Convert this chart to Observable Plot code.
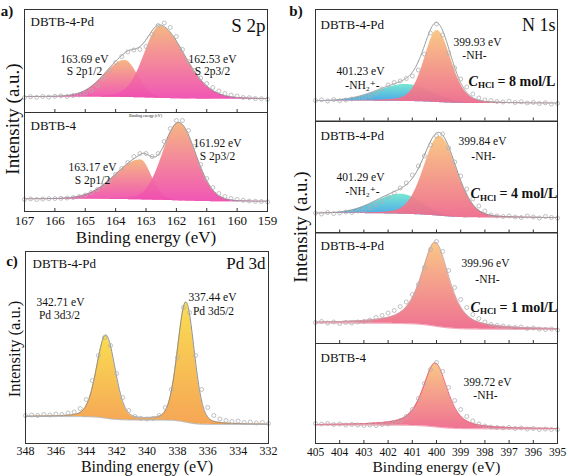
<!DOCTYPE html>
<html><head><meta charset="utf-8">
<script src="https://cdn.jsdelivr.net/npm/d3@7"></script>
<script src="https://cdn.jsdelivr.net/npm/@observablehq/plot@0.6"></script>
<style>
html,body{margin:0;padding:0;background:#fff;}
#fig{position:relative;width:568px;height:476px;overflow:hidden;font-family:"Liberation Serif","Tinos","DejaVu Serif","Noto Serif","Times New Roman",Times,serif;color:#111;}
#fig svg{position:absolute;overflow:visible;}
.t{position:absolute;white-space:nowrap;line-height:1;}
</style></head><body>
<div id="fig"></div>
<script>
// ---------- data ----------
const sEnergy = [167.0,166.8,166.6,166.4,166.2,166.0,165.8,165.6,165.4,165.2,165.0,164.8,164.6,164.4,164.2,164.0,163.8,163.6,163.4,163.2,163.0,162.8,162.6,162.4,162.2,162.0,161.8,161.6,161.4,161.2,161.0,160.8,160.6,160.4,160.2,160.0,159.8,159.6,159.4,159.2,159.0];
const nEnergy = [405.0,404.75,404.5,404.25,404.0,403.75,403.5,403.25,403.0,402.75,402.5,402.25,402.0,401.75,401.5,401.25,401.0,400.75,400.5,400.25,400.0,399.75,399.5,399.25,399.0,398.75,398.5,398.25,398.0,397.75,397.5,397.25,397.0,396.75,396.5,396.25,396.0,395.75,395.5,395.25,395.0];
const pdEnergy = [348.0,347.6,347.2,346.8,346.4,346.0,345.6,345.2,344.8,344.4,344.0,343.6,343.2,342.8,342.4,342.0,341.6,341.2,340.8,340.4,340.0,339.6,339.2,338.8,338.4,338.0,337.6,337.2,336.8,336.4,336.0,335.6,335.2,334.8,334.4,334.0,333.6,333.2,332.8,332.4,332.0];

// measured intensities (a.u.)
const aTopCounts = [15,15.8,15.2,16,15.4,16.2,16.6,16,17,17.6,19.5,22,27,34,42,50,56,60.5,62.5,63,66,78,87,89.5,85,76,63,51,42,34.5,29,25,21.5,19,17.5,16.5,15,14.8,14,13.8,13.2];
const aBotCounts = [12,12.6,12,12.5,12.8,13,13.2,13.5,14,15,16.5,19,22,26,31,37,43,49,55,58,58,55,58,70,83,91,91,81,65,47,33,24,18,15,13,12,11.2,10.5,10.2,10,9.6];
const b1Counts = [20.5,21.2,20,21.5,20.3,21,22,22.6,23.5,25,28,32,36,38.5,40,42.5,45,51,67,88,97,86,68,53,42,34,27,23,21,20.5,19.5,19,19.8,18.5,19.2,18,18.6,17.5,18.2,17,17.6];
const b2Counts = [20,19,20.5,19.5,20,21,20.5,22,23,25,28,31.5,36,40,45,50,58,67,77,88,97,99,85,71,57,44,34,27,22,18,17,16.5,17,16,15.5,17,16,15,16.5,15.5,15];
const b3Counts = [21,22,20.5,21.5,20,21,20.5,21.5,22,23.5,26,28,30.5,33,37,41.5,49,59,76,94,102,92,73,56,44,36,29,25,21.5,19,18,17.5,16.5,16,16.5,15,15.5,14.5,14,14.5,13.5];
const b4Counts = [20,19.5,20,19,19.5,18.5,19,18.5,18,18.5,18,19,19.5,21,23,27,34,45,60,74,81,72,56,43,34,27,22.5,19.5,17.5,16.5,16,15.5,16,15,15.5,14.5,15,14,14.5,14,14];
const pdCounts = [28,28.5,28,29,28.5,29.5,29,30.5,31.5,35,44,63,88,106,98,70,46,33,27,25,24.5,25,28,36,54,86,136,131,88,54,36,28,24.5,23,22,22.5,21,21.5,20.5,21,20];

// fitted components: centre (eV), height, half widths (high-BE side, low-BE side), Lorentzian fraction
const aTopCenters = [163.69, 162.53], aTopHeights = [37, 72], aTopHwHigh = [0.8, 0.62], aTopHwLow = [0.5, 0.95], aTopMix = [0.1, 0.15];
const aBotCenters = [163.17, 161.92], aBotHeights = [40, 78], aBotHwHigh = [1.0, 0.62], aBotHwLow = [0.42, 0.66], aBotMix = [0.1, 0.1];
const b1Centers = [401.23, 399.97], b1Heights = [17, 72], b1HwHigh = [1.4, 0.62], b1HwLow = [1.2, 0.68], b1Mix = [0, 0.25];
const b2Centers = [401.45, 399.87], b2Heights = [20, 80], b2HwHigh = [1.25, 0.76], b2HwLow = [1.0, 0.82], b2Mix = [0, 0.2];
const b3Centers = [400.05], b3Heights = [84], b3HwHigh = [0.68], b3HwLow = [0.68], b3Mix = [0.65];
const b4Centers = [400.05], b4Heights = [64], b4HwHigh = [0.6], b4HwLow = [0.6], b4Mix = [0.6];
const pdCenters = [342.71, 337.44], pdHeights = [83, 120], pdHwHigh = [0.72, 0.65], pdHwLow = [0.72, 0.65], pdMix = [0.2, 0.2];
// background levels (high-BE end, low-BE end)
const aTopBg = [15.5, 13.2], aBotBg = [12.3, 9.8], b1Bg = [20, 17.5], b2Bg = [19.5, 15], b3Bg = [20.5, 14], b4Bg = [18.5, 14.5], pdBg = [27, 19];

// ticks
const sTicks = [166,165,164,163,162,161,160];
const sTickLabels = [167,166,165,164,163,162,161,160,159];
const nTicks = [404,403,402,401,400,399,398,397,396];
const nTickLabels = [405,404,403,402,401,400,399,398,397,396,395];
const pdTickLabels = [348,346,344,342,340,338,336,334,332];

// ---------- drawing ----------
const fig = document.getElementById("fig");
const NS = "http://www.w3.org/2000/svg";
const FONT = '"Liberation Serif","Tinos","DejaVu Serif","Noto Serif","Times New Roman",Times,serif';

// gradients
const gradients = [["gS","#f5b27c","#f04eb1"],["gNH","#f9c57f","#ee6b8d"],["gNH2","#72e6cf","#3a9eea"],["gPd","#f9dc48","#f5a14d"]];
const defsSvg = document.createElementNS(NS,"svg");
defsSvg.setAttribute("width","0"); defsSvg.setAttribute("height","0");
defsSvg.style.position = "absolute";
const defs = document.createElementNS(NS,"defs");
for (const [id,c1,c2] of gradients) {
  const g = document.createElementNS(NS,"linearGradient");
  g.setAttribute("id",id); g.setAttribute("x1","0"); g.setAttribute("y1","0"); g.setAttribute("x2","0"); g.setAttribute("y2","1");
  for (const [o,c] of [["0",c1],["1",c2]]) { const s=document.createElementNS(NS,"stop"); s.setAttribute("offset",o); s.setAttribute("stop-color",c); g.appendChild(s); }
  defs.appendChild(g);
}
defsSvg.appendChild(defs); fig.appendChild(defsSvg);

function peak(E, c, A, hHi, hLo, eta) {
  const d = E - c, h = d >= 0 ? hHi : hLo, t = d*d/(h*h);
  return A*((1-eta)*Math.exp(-Math.LN2*t) + eta/(1+t));
}

function htmlText(txt, x, y, o = {}) {
  const d = document.createElement("div");
  d.className = "t"; d.textContent = txt;
  d.style.left = x + "px"; d.style.top = y + "px";
  d.style.fontSize = (o.size || 16) + "px";
  d.style.fontWeight = o.weight || "normal";
  d.style.transform = "translate(-50%,-50%)" + (o.rotate ? " rotate(-90deg)" : "");
  fig.appendChild(d);
}

function panel(cfg) {
  const {left, top, right, bottom, domain, energies, counts, centers, heights, hwHigh, hwLow, mix, bg, fills,
         env, bgLine, ticks, tickLabels, tickSize, tickDy, titleDy, titleSize, texts} = cfg;
  const W = right - left, H = bottom - top;
  const extra = tickLabels ? 36 : 0;
  const [hiE, loE] = domain;
  const grid = d3.range(loE, hiE + 1e-9, 0.02);
  const comps = centers.map((c,k) => grid.map(E => peak(E, c, heights[k], hwHigh[k], hwLow[k], mix[k])));
  const sum = grid.map((E,i) => d3.sum(comps, cc => cc[i]));
  const total = d3.sum(sum);
  let cum = 0;
  const base = sum.map(s => { cum += s; return bg[1] + (bg[0]-bg[1])*cum/total; });
  const rows = grid.map((E,i) => ({E, base: base[i], env: base[i] + sum[i], comps: comps.map(cc => base[i] + cc[i])}));
  const pts = energies.map((E,i) => ({E, I: counts[i]}));

  const T = (txt, x, y, o = {}) => Plot.text([txt], {
    text: d => d, frameAnchor: "top-left", dx: x - left, dy: y - top,
    textAnchor: o.anchor || "middle", lineAnchor: "middle",
    fontSize: o.size || 11.5, fontWeight: o.weight || "normal", fontStyle: o.style || "normal", fill: "#111"
  });
  const CHCL = (x, y, n) => [T("C", x, y, {anchor:"start", size:14, weight:"bold", style:"italic"}),
            T("HCl", x+9.5, y+4, {anchor:"start", size:9, weight:"bold"}),
            T("= " + n + " mol/L", x+29, y, {anchor:"start", size:14, weight:"bold"})];

  const marks = [];
  comps.forEach((cc,k) => marks.push(Plot.areaY(rows, {x: "E", y1: "base", y2: d => d.comps[k], fill: `url(#${fills[k]})`, fillOpacity: 0.95})));
  if (bgLine) marks.push(Plot.lineY(rows, {x: "E", y: "base", stroke: bgLine, strokeWidth: 0.8}));
  marks.push(Plot.lineY(rows, {x: "E", y: "env", stroke: env, strokeWidth: 1}));
  marks.push(Plot.dot(pts, {x: "E", y: "I", r: 2, stroke: "#b0b0b0", strokeWidth: 0.8, fill: "none"}));
  if (ticks) marks.push(Plot.tickX(ticks, {x: d => d, insetTop: H - 3, stroke: "#333"}));
  marks.push(Plot.frame({stroke: "#333"}));
  if (tickLabels) {
    marks.push(Plot.text(tickLabels, {x: d => d, text: d => String(d), frameAnchor: "bottom", dy: tickDy, lineAnchor: "middle", fontSize: tickSize, fill: "#111"}));
    marks.push(Plot.text(["Binding energy (eV)"], {text: d => d, frameAnchor: "bottom", dy: titleDy, lineAnchor: "middle", fontSize: titleSize || 17, fill: "#111"}));
  }
  if (texts) marks.push(...texts(T, CHCL).flat());

  const svg = Plot.plot({
    width: W + 2, height: H + 2 + extra,
    marginLeft: 1, marginRight: 1, marginTop: 1, marginBottom: 1 + extra,
    x: {domain: [hiE, loE], axis: null},
    y: {domain: [0, H], axis: null},
    style: {background: "transparent", fontFamily: FONT, overflow: "visible"},
    marks
  });
  svg.style.position = "absolute";
  svg.style.left = (left - 1) + "px";
  svg.style.top = (top - 1) + "px";
  fig.appendChild(svg);
}

// ----- panel a -----
panel({left:24, top:9, right:267, bottom:112, domain:[167,159], energies:sEnergy, counts:aTopCounts,
  centers:aTopCenters, heights:aTopHeights, hwHigh:aTopHwHigh, hwLow:aTopHwLow, mix:aTopMix, bg:aTopBg,
  fills:["gS","gS"], env:"#8a8a8a", ticks:sTicks,
  texts:(T) => [T("DBTB-4-Pd",30,21,{anchor:"start",size:13}), T("S 2p",265,25,{anchor:"end",size:19}),
    T("163.69 eV",84,59), T("S 2p1/2",84,71), T("162.53 eV",212,59), T("S 2p3/2",212,71)]});
panel({left:24, top:112, right:267, bottom:211, domain:[167,159], energies:sEnergy, counts:aBotCounts,
  centers:aBotCenters, heights:aBotHeights, hwHigh:aBotHwHigh, hwLow:aBotHwLow, mix:aBotMix, bg:aBotBg,
  fills:["gS","gS"], env:"#8a8a8a", ticks:sTicks, tickLabels:sTickLabels, tickSize:13, tickDy:9.5, titleDy:26.5, titleSize:17,
  texts:(T) => [T("DBTB-4",30,125,{anchor:"start",size:13}), T("Binding energy (eV)",145,115.5,{size:4}),
    T("161.92 eV",217,143), T("S 2p3/2",217,156), T("163.17 eV",92,167), T("S 2p1/2",92,180)]});

// ----- panel b -----
panel({left:315, top:9, right:557, bottom:120.5, domain:[405,395], energies:nEnergy, counts:b1Counts,
  centers:b1Centers, heights:b1Heights, hwHigh:b1HwHigh, hwLow:b1HwLow, mix:b1Mix, bg:b1Bg,
  fills:["gNH2","gNH"], env:"#9a9a9a", ticks:nTicks,
  texts:(T,CHCL) => [T("DBTB-4-Pd",320,24,{anchor:"start",size:13}), T("N 1s",555,25,{anchor:"end",size:18}),
    T("399.93 eV",477,42), T("-NH-",474,55), T("401.23 eV",360,71), T("-NH\u2082\u207A-",362,85), CHCL(468,81,"8")]});
panel({left:315, top:120.5, right:557, bottom:232, domain:[405,395], energies:nEnergy, counts:b2Counts,
  centers:b2Centers, heights:b2Heights, hwHigh:b2HwHigh, hwLow:b2HwLow, mix:b2Mix, bg:b2Bg,
  fills:["gNH2","gNH"], env:"#8a8a8a", ticks:nTicks,
  texts:(T,CHCL) => [T("DBTB-4-Pd",320,135,{anchor:"start",size:13}),
    T("399.84 eV",482,140), T("-NH-",483,155), T("401.29 eV",360,176), T("-NH\u2082\u207A-",362,190), CHCL(470,193,"4")]});
panel({left:315, top:232, right:557, bottom:343, domain:[405,395], energies:nEnergy, counts:b3Counts,
  centers:b3Centers, heights:b3Heights, hwHigh:b3HwHigh, hwLow:b3HwLow, mix:b3Mix, bg:b3Bg,
  fills:["gNH"], env:"#c9a3ad", bgLine:"#ee7a96", ticks:nTicks,
  texts:(T,CHCL) => [T("DBTB-4-Pd",320,245,{anchor:"start",size:13}),
    T("399.96 eV",485,263), T("-NH-",487,279), CHCL(470,307,"1")]});
panel({left:315, top:343, right:557, bottom:443, domain:[405,395], energies:nEnergy, counts:b4Counts,
  centers:b4Centers, heights:b4Heights, hwHigh:b4HwHigh, hwLow:b4HwLow, mix:b4Mix, bg:b4Bg,
  fills:["gNH"], env:"#e8607e", bgLine:"#ee7a96", ticks:nTicks, tickLabels:nTickLabels, tickSize:11.5, tickDy:9, titleDy:23.8, titleSize:15.5,
  texts:(T) => [T("DBTB-4",320,357,{anchor:"start",size:13}), T("399.72 eV",487,382), T("-NH-",485,395)]});

// ----- panel c -----
panel({left:25, top:251, right:268, bottom:443, domain:[348,332], energies:pdEnergy, counts:pdCounts,
  centers:pdCenters, heights:pdHeights, hwHigh:pdHwHigh, hwLow:pdHwLow, mix:pdMix, bg:pdBg,
  fills:["gPd","gPd"], env:"#8a8a8a", bgLine:"#9a9a9a", tickLabels:pdTickLabels, tickSize:12, tickDy:8, titleDy:23.8, titleSize:16,
  texts:(T) => [T("DBTB-4-Pd",32,263,{anchor:"start",size:13}), T("Pd 3d",265,263,{anchor:"end",size:17}),
    T("342.71 eV",60,302), T("Pd 3d3/2",59,315), T("337.44 eV",212,297), T("Pd 3d5/2",213,311)]});

// panel letters & y titles
htmlText("a)", 7, 11, {size:15, weight:"bold"});
htmlText("b)", 296, 11, {size:15, weight:"bold"});
htmlText("c)", 12, 261, {size:15, weight:"bold"});
htmlText("Intensity (a.u.)", 12, 119, {size:19, rotate:true});
htmlText("Intensity (a.u.)", 300, 227, {size:19, rotate:true});
htmlText("Intensity (a.u.)", 15, 349, {size:16.5, rotate:true});
</script></body></html>
